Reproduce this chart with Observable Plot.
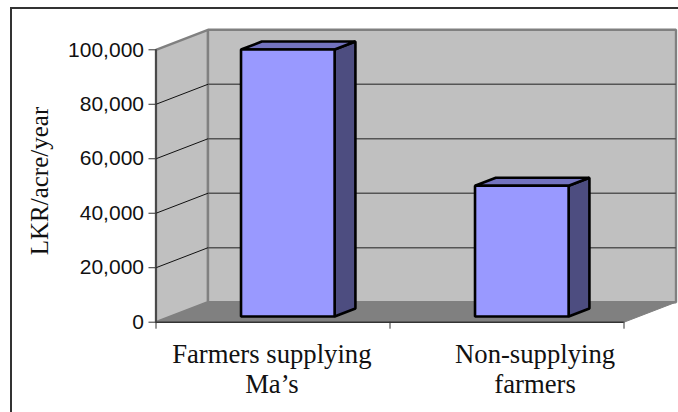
<!DOCTYPE html>
<html>
<head>
<meta charset="utf-8">
<script src="https://cdn.jsdelivr.net/npm/d3@7"></script>
<script src="https://cdn.jsdelivr.net/npm/@observablehq/plot@0.6"></script>
<style>
  html, body { margin: 0; padding: 0; background: #fff; overflow: hidden; }
  #sheet { position: relative; width: 678px; height: 412px; overflow: hidden; }
  #sheet::before {
    content: ""; position: absolute; left: 10px; top: 7px; width: 1000px; height: 1000px;
    border: 2px solid #333; box-sizing: border-box; pointer-events: none;
  }
  #sheet svg { position: absolute; left: 0; top: 0; }
</style>
</head>
<body>
<div id="sheet"></div>
<script>
// Annual income per acre for the two farmer groups
const categories = ["Farmers supplying\nMa\u2019s", "Non-supplying\nfarmers"];
const categoryLabelX = [0.495, 1.62];
const values = [98000, 48000];
const barStart = [0.3, 1.3];
const yTicks = [0, 20000, 40000, 60000, 80000, 100000];

// Oblique depth of the chart box, as offsets in scale units per full depth
const depthX = 0.2222;
const depthY = 7342;
const barWidth = 0.4;
const barNear = 0.285;
const barFar = 0.685;

const at = (x, y, d) => ({x: x + d * depthX, y: y + d * depthY});
const quad = (...pts) => pts;

const yMax = yTicks[yTicks.length - 1];
const leftWall = quad(at(0, 0, 0), at(0, yMax, 0), at(0, yMax, 1), at(0, 0, 1));
const backWall = quad(at(0, 0, 1), at(0, yMax, 1), at(2, yMax, 1), at(2, 0, 1));
const floor = quad(at(0, 0, 0), at(0, 0, 1), at(2, 0, 1), at(2, 0, 0));

const polygon = (pts, fill, stroke, strokeWidth) =>
  Plot.line(pts, {x: "x", y: "y", fill, stroke, strokeWidth, curve: "linear-closed", strokeLinejoin: "miter"});

// Each bar is a front, a side and a top face, painted back to front
const barFaces = values.flatMap((v, i) => {
  const x0 = barStart[i], x1 = x0 + barWidth;
  return [
    polygon(quad(at(x1, 0, barNear), at(x1, v, barNear), at(x1, v, barFar), at(x1, 0, barFar)), "#4d4d80", "#000", 2.6),
    polygon(quad(at(x0, v, barNear), at(x0, v, barFar), at(x1, v, barFar), at(x1, v, barNear)), "#7373bf", "#000", 2.6),
    polygon(quad(at(x0, 0, barNear), at(x0, v, barNear), at(x1, v, barNear), at(x1, 0, barNear)), "#9999ff", "#000", 2.6)
  ];
});

const gridTicks = yTicks.filter(v => v > 0 && v < yMax);

const chart = Plot.plot({
  width: 678,
  height: 412,
  marginLeft: 155.5,
  marginRight: 54.5,
  marginTop: 49.3,
  marginBottom: 90.3,
  style: {background: "transparent", overflow: "visible"},
  x: {type: "linear", domain: [0, 2]},
  y: {type: "linear", domain: [0, yMax]},
  marks: [
    polygon(leftWall, "#c0c0c0", "#808080", 2.4),
    polygon(backWall, "#c0c0c0", "#808080", 2.4),
    polygon(floor, "#808080", "#808080", 1),
    // Gridlines wrap from the left wall onto the back wall
    Plot.link(gridTicks, {x1: 0, y1: d => d, x2: depthX, y2: d => d + depthY, stroke: "#111", strokeWidth: 1}),
    Plot.link(gridTicks, {x1: depthX, y1: d => d + depthY, x2: 2 + depthX, y2: d => d + depthY, stroke: "#555", strokeWidth: 1.4}),
    Plot.ruleX([0], {y1: 0, y2: yMax, stroke: "#333", strokeWidth: 1.4}),
    Plot.ruleY([0], {x1: 0, x2: 2, stroke: "#333", strokeWidth: 1.6}),
    Plot.axisY({
      ticks: yTicks, tickSize: 7, tickPadding: 5, label: null,
      tickFormat: d3.format(","), fontSize: 21, fontFamily: "Liberation Sans", color: "#111", stroke: "#333"
    }),
    Plot.axisX({ticks: [0, 1, 2], tickSize: 7, tickFormat: () => "", label: null, stroke: "#333"}),
    ...barFaces,
    Plot.text(categories, {
      x: categoryLabelX, frameAnchor: "bottom", lineAnchor: "top", dy: 19,
      fontSize: 26.7, lineHeight: 1.13, fontFamily: "Liberation Serif", fill: "#111", textAnchor: "middle"
    }),
    Plot.text(["LKR/acre/year"], {
      frameAnchor: "left", rotate: -90, dx: -116, dy: -5, textAnchor: "middle",
      fontSize: 25, fontFamily: "Liberation Serif", fill: "#111"
    })
  ]
});

document.getElementById("sheet").appendChild(chart);
</script>
</body>
</html>
